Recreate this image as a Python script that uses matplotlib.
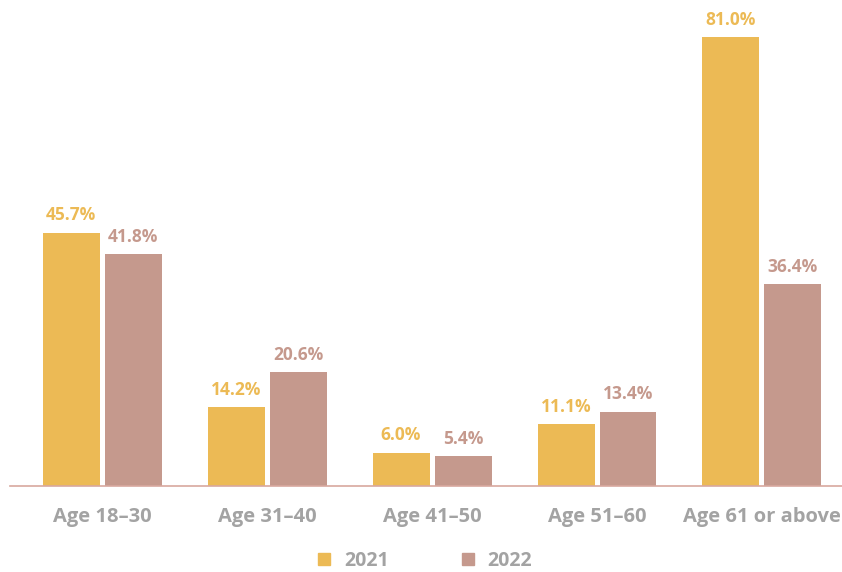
import matplotlib
matplotlib.use("Agg")
import matplotlib.pyplot as plt
import numpy as np
from matplotlib.lines import Line2D

plt.rcParams["font.family"] = ["Open Sans", "DejaVu Sans"]

categories = ["Age 18–30", "Age 31–40", "Age 41–50", "Age 51–60", "Age 61 or above"]
series_names = ["2021", "2022"]
values_2021 = [45.7, 14.2, 6.0, 11.1, 81.0]
values_2022 = [41.8, 20.6, 5.4, 13.4, 36.4]

colors = ["#ECBA55", "#C5998D"]
label_gray = "#A3A3A3"

fig = plt.figure(figsize=(8.42, 5.72), dpi=100)
ax = fig.add_axes([10 / 842, 86 / 572, 832 / 842, 486 / 572])

x = np.arange(len(categories))
width = 57 / 165
gap = 5 / 165
offsets = [-(width + gap) / 2, (width + gap) / 2]

for vals, off, col in zip([values_2021, values_2022], offsets, colors):
    bars = ax.bar(x + off, vals, width, color=col, zorder=2)
    for bar, v in zip(bars, vals):
        ax.annotate(
            f"{v:.1f}%",
            xy=(bar.get_x() + bar.get_width() / 2, bar.get_height()),
            xytext=(0, 6), textcoords="offset points",
            ha="center", va="bottom", fontsize=12.5, fontweight="bold", color=col,
        )

ax.set_xlim(-0.558, 4.485)
ax.set_ylim(0, 87.7)
for s in ["top", "right", "left"]:
    ax.spines[s].set_visible(False)
ax.spines["bottom"].set_color("#D8A89E")
ax.spines["bottom"].set_linewidth(1.2)
ax.set_yticks([])
ax.set_xticks(x)
ax.set_xticklabels(categories, fontsize=14.5, fontweight="bold", color=label_gray)
ax.tick_params(axis="x", length=0, pad=15)

handles = [
    Line2D([0], [0], marker="s", linestyle="none", markersize=8,
           markerfacecolor=c, markeredgecolor=c)
    for c in colors
]
fig.legend(
    handles, series_names, loc="center", bbox_to_anchor=(0.503, 1 - 561 / 572),
    ncol=2, frameon=False, handletextpad=0.5, columnspacing=3.6,
    prop={"size": 14, "weight": "bold"}, labelcolor=label_gray,
    borderpad=0, handlelength=1.0,
)

fig.savefig("out.png", dpi=100)
